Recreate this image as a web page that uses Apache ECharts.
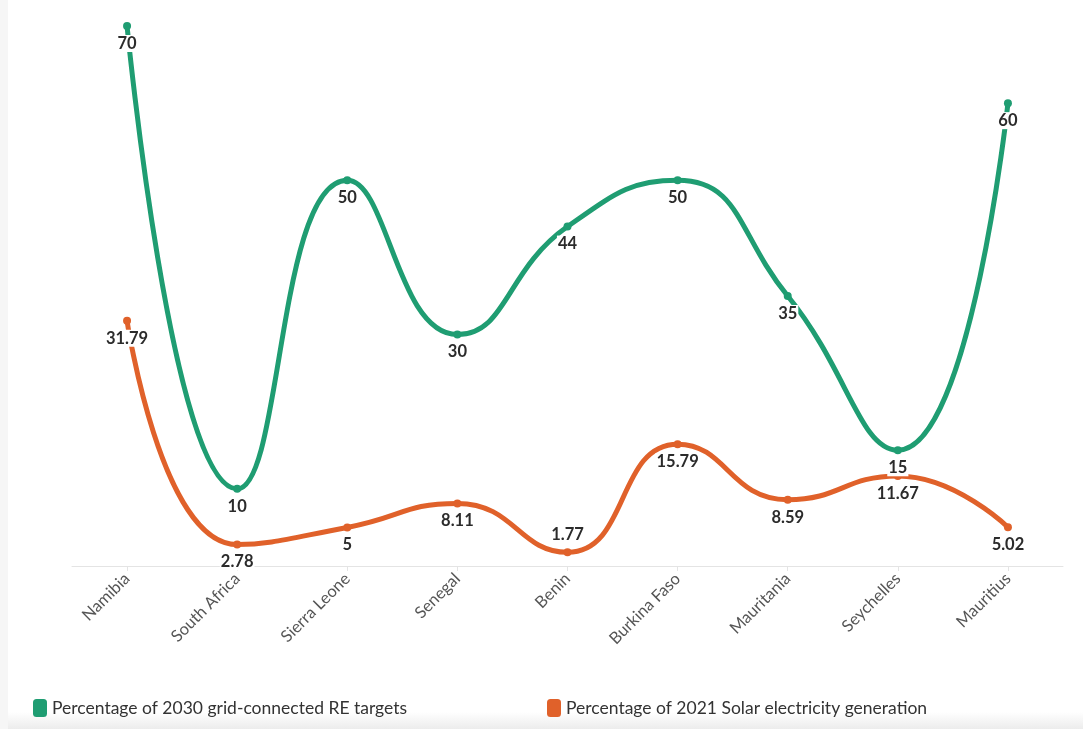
<!DOCTYPE html>
<html>
<head>
<meta charset="utf-8">
<script src="https://cdn.jsdelivr.net/npm/echarts@6/dist/echarts.min.js"></script>
<style>
  html, body { margin: 0; padding: 0; background: #fff; }
  #wrap { position: relative; width: 1083px; height: 729px; overflow: hidden;
    background: linear-gradient(to bottom, #ffffff 0px, #ffffff 712px, #ececec 729px); }
  #edge { position: absolute; left: 0; top: 0; width: 8px; height: 729px; background: #f6f6f6; }
  #chart { position: absolute; left: 0; top: 0; width: 1083px; height: 729px; }
</style>
</head>
<body>
<div id="wrap"><div id="edge"></div><div id="chart"></div></div>
<script>
const categories = ['Namibia', 'South Africa', 'Sierra Leone', 'Senegal', 'Benin', 'Burkina Faso', 'Mauritania', 'Seychelles', 'Mauritius'];
const reTargets = [70, 10, 50, 30, 44, 50, 35, 15, 60];
const solarGen = [31.79, 2.78, 5, 8.11, 1.77, 15.79, 8.59, 11.67, 5.02];
const solarLabelPos = ['bottom', 'bottom', 'bottom', 'bottom', 'top', 'bottom', 'bottom', 'bottom', 'bottom'];
const seriesNames = ['Percentage of 2030 grid-connected RE targets', 'Percentage of 2021 Solar electricity generation'];

const GREEN = '#1f9d72';
const ORANGE = '#e0612a';
const FONT = 'Lato, "Source Sans Pro", "Open Sans", sans-serif';

const labelStyle = {
  show: true,
  position: 'bottom',
  distance: 5,
  fontFamily: FONT,
  fontSize: 16.5,
  fontWeight: 'bold',
  color: '#2b2b2b',
  backgroundColor: '#fff',
  padding: [0, 1]
};

const chart = echarts.init(document.getElementById('chart'), null, { renderer: 'canvas' });
chart.setOption({
  animation: false,
  backgroundColor: 'transparent',
  grid: { left: 72, right: 20, top: 26, bottom: 163, containLabel: false },
  legend: [
    {
      data: [seriesNames[0]],
      left: 28, top: 694,
      itemWidth: 14, itemHeight: 18, itemGap: 6,
      icon: 'roundRect',
      textStyle: { fontFamily: FONT, fontSize: 17.5, color: '#333' },
      selectedMode: false
    },
    {
      data: [seriesNames[1]],
      left: 542, top: 694,
      itemWidth: 14, itemHeight: 18,
      icon: 'roundRect',
      textStyle: { fontFamily: FONT, fontSize: 17.5, color: '#333' },
      selectedMode: false
    }
  ],
  xAxis: {
    type: 'category',
    data: categories,
    boundaryGap: true,
    axisLine: { lineStyle: { color: '#e4e4e4', width: 1 } },
    axisTick: { show: true, alignWithLabel: true, length: 5, lineStyle: { color: '#e4e4e4' } },
    axisLabel: { rotate: 45, margin: 10, fontFamily: FONT, fontSize: 16.5, color: '#555', interval: 0 }
  },
  yAxis: {
    type: 'value',
    min: 0, max: 70,
    show: false,
    splitLine: { show: false }
  },
  series: [
    {
      name: seriesNames[0],
      type: 'line',
      data: reTargets,
      smooth: 0.5,
      symbol: 'circle',
      symbolSize: 8,
      itemStyle: { color: GREEN },
      lineStyle: { color: GREEN, width: 5 },
      label: labelStyle,
      z: 3
    },
    {
      name: seriesNames[1],
      type: 'line',
      data: solarGen.map((v, i) => ({ value: v, label: { position: solarLabelPos[i] } })),
      smooth: 0.5,
      symbol: 'circle',
      symbolSize: 8,
      itemStyle: { color: ORANGE },
      lineStyle: { color: ORANGE, width: 5 },
      label: labelStyle,
      z: 2
    }
  ]
});
</script>
</body>
</html>
